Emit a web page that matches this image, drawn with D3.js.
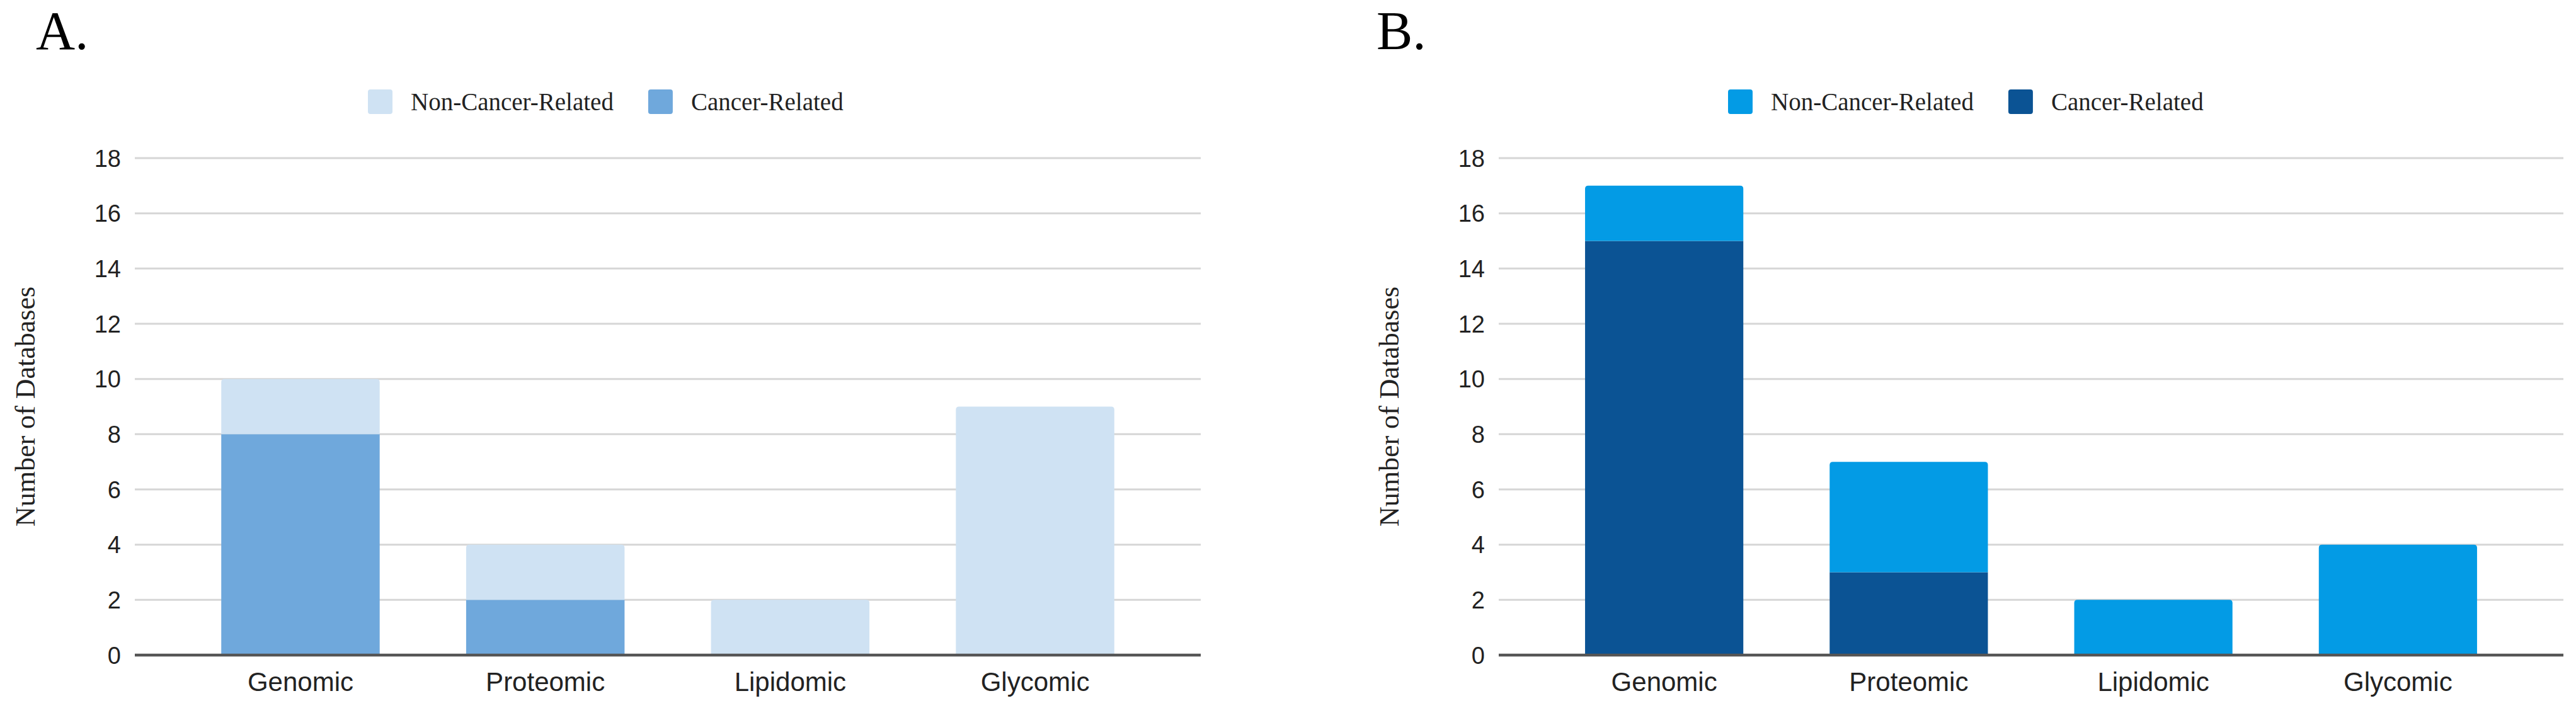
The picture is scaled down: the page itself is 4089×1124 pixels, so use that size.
<!DOCTYPE html>
<html>
<head>
<meta charset="utf-8">
<style>
  body { margin: 0; background: #fff; }
</style>
<script src="https://cdn.jsdelivr.net/npm/d3@7"></script>
</head>
<body>
<div id="container"></div>
<script>
    // data
    const categories = ["Genomic", "Proteomic", "Lipidomic", "Glycomic"];
    const seriesNames = ["Non-Cancer-Related", "Cancer-Related"];
    const yTicks = [0, 2, 4, 6, 8, 10, 12, 14, 16, 18];

    // panel A
    const cancerA = [8, 2, 0, 0];
    const nonCancerA = [2, 2, 2, 9];
    // panel B
    const cancerB = [15, 3, 0, 0];
    const nonCancerB = [2, 4, 2, 4];

    const width = 4089;
    const height = 1124;

    const svg = d3.select("#container").append("svg")
        .attr("width", width)
        .attr("height", height)
        .style("display", "block");

    svg.append("rect")
        .attr("width", width)
        .attr("height", height)
        .attr("fill", "#fff");

    const panels = [
        {
            label: "A.", labelX: 57, left: 214, right: 1906, legendX: 584, titleX: 55,
            cancer: cancerA, nonCancer: nonCancerA,
            colors: { nonCancer: "#cfe2f3", cancer: "#6fa8dc" }
        },
        {
            label: "B.", labelX: 2185, left: 2379, right: 4069, legendX: 2743, titleX: 2220,
            cancer: cancerB, nonCancer: nonCancerB,
            colors: { nonCancer: "#039be5", cancer: "#0b5394" }
        }
    ];

    const plotTop = 251;
    const plotBottom = 1040;

    // rect with rounded top corners only
    function topRounded(x, y, w, h, r) {
        r = Math.min(r, h, w / 2);
        return `M${x},${y + h}V${y + r}Q${x},${y} ${x + r},${y}` +
            `H${x + w - r}Q${x + w},${y} ${x + w},${y + r}V${y + h}Z`;
    }

    panels.forEach(p => {
        const g = svg.append("g");

        const x = d3.scaleBand()
            .domain(categories)
            .range([p.left, p.right])
            .padding(0.353);

        const y = d3.scaleLinear()
            .domain([0, 18])
            .range([plotBottom, plotTop]);

        // gridlines
        g.append("g")
            .selectAll("line")
            .data(yTicks.filter(d => d > 0))
            .join("line")
            .attr("x1", p.left)
            .attr("x2", p.right)
            .attr("y1", d => y(d))
            .attr("y2", d => y(d))
            .attr("stroke", "#d6d6d6")
            .attr("stroke-width", 3);

        // y tick labels
        g.append("g")
            .selectAll("text")
            .data(yTicks)
            .join("text")
            .attr("x", p.left - 22)
            .attr("y", d => y(d))
            .attr("dy", "0.36em")
            .attr("text-anchor", "end")
            .attr("font-family", "'Liberation Sans', Arial, sans-serif")
            .attr("font-size", 38)
            .attr("fill", "#222")
            .text(d => d);

        // stacked bars, cancer-related at the bottom
        const rows = categories.map((c, i) => ({
            category: c, cancer: p.cancer[i], nonCancer: p.nonCancer[i]
        }));
        const stack = d3.stack().keys(["cancer", "nonCancer"])(rows);

        stack.forEach(layer => {
            g.append("g")
                .attr("fill", p.colors[layer.key])
                .selectAll("path")
                .data(layer.filter(d => d[1] - d[0] > 0))
                .join("path")
                .attr("d", d => {
                    const isTop = d[1] === d.data.cancer + d.data.nonCancer;
                    const bx = x(d.data.category);
                    const by = y(d[1]);
                    const bh = y(d[0]) - y(d[1]);
                    return topRounded(bx, by, x.bandwidth(), bh, isTop ? 5 : 0);
                });
        });

        // baseline
        g.append("line")
            .attr("x1", p.left)
            .attr("x2", p.right)
            .attr("y1", y(0))
            .attr("y2", y(0))
            .attr("stroke", "#555")
            .attr("stroke-width", 4.5);

        // category labels
        const xAxis = d3.axisBottom(x).tickSize(0).tickPadding(0);
        const ax = g.append("g")
            .attr("transform", `translate(0,${plotBottom})`)
            .call(xAxis);
        ax.select(".domain").remove();
        ax.selectAll("text")
            .attr("y", 57)
            .attr("dy", 0)
            .attr("font-family", "'Liberation Sans', Arial, sans-serif")
            .attr("font-size", 42)
            .attr("fill", "#222");

        // y-axis title
        g.append("text")
            .attr("transform", `translate(${p.titleX},${(plotTop + plotBottom) / 2}) rotate(-90)`)
            .attr("text-anchor", "middle")
            .attr("font-family", "'Liberation Serif', 'Times New Roman', serif")
            .attr("font-size", 44)
            .attr("fill", "#222")
            .text("Number of Databases");

        // panel label
        g.append("text")
            .attr("x", p.labelX)
            .attr("y", 78)
            .attr("font-family", "'Liberation Serif', 'Times New Roman', serif")
            .attr("font-size", 86)
            .attr("fill", "#000")
            .text(p.label);

        // legend
        const legendKeys = ["nonCancer", "cancer"];
        let lx = p.legendX;
        legendKeys.forEach((k, i) => {
            g.append("rect")
                .attr("x", lx)
                .attr("y", 142)
                .attr("width", 39)
                .attr("height", 39)
                .attr("rx", 4)
                .attr("fill", p.colors[k]);
            const t = g.append("text")
                .attr("x", lx + 68)
                .attr("y", 175)
                .attr("font-family", "'Liberation Serif', 'Times New Roman', serif")
                .attr("font-size", 39)
                .attr("fill", "#222")
                .text(seriesNames[i]);
            lx = lx + 68 + t.node().getComputedTextLength() + 55;
        });
    });
</script>
</body>
</html>
